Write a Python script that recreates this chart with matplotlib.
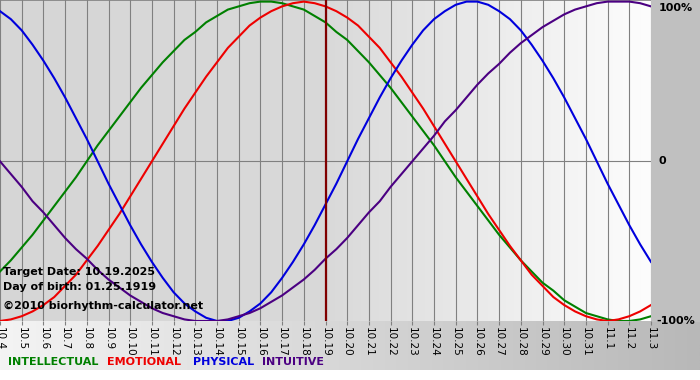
import numpy as np
import matplotlib
matplotlib.use("Agg")
import matplotlib.pyplot as plt
from matplotlib.colors import LinearSegmentedColormap

# days shown: 10.4 ... 11.3
days = ["10.4", "10.5", "10.6", "10.7", "10.8", "10.9", "10.10", "10.11", "10.12",
        "10.13", "10.14", "10.15", "10.16", "10.17", "10.18", "10.19", "10.20",
        "10.21", "10.22", "10.23", "10.24", "10.25", "10.26", "10.27", "10.28",
        "10.29", "10.30", "10.31", "11.1", "11.2", "11.3"]
target_idx = 15  # 10.19

# values read every half day
intellectual = [-0.69, -0.62, -0.54, -0.46, -0.37, -0.28, -0.19, -0.10, 0.00, 0.10,
                0.19, 0.28, 0.37, 0.46, 0.54, 0.62, 0.69, 0.76, 0.81, 0.87,
                0.91, 0.95, 0.97, 0.99, 1.00, 1.00, 0.99, 0.97, 0.95, 0.91,
                0.87, 0.81, 0.76, 0.69, 0.62, 0.54, 0.46, 0.37, 0.28, 0.19,
                0.10, 0.00, -0.10, -0.19, -0.28, -0.37, -0.46, -0.54, -0.62, -0.69,
                -0.76, -0.81, -0.87, -0.91, -0.95, -0.97, -0.99, -1.00, -1.00, -0.99,
                -0.97]
emotional = [-1.00, -0.99, -0.97, -0.94, -0.90, -0.85, -0.78, -0.71, -0.62, -0.53,
             -0.43, -0.33, -0.22, -0.11, 0.00, 0.11, 0.22, 0.33, 0.43, 0.53,
             0.62, 0.71, 0.78, 0.85, 0.90, 0.94, 0.97, 0.99, 1.00, 0.99,
             0.97, 0.94, 0.90, 0.85, 0.78, 0.71, 0.62, 0.53, 0.43, 0.33,
             0.22, 0.11, 0.00, -0.11, -0.22, -0.33, -0.43, -0.53, -0.62, -0.71,
             -0.78, -0.85, -0.90, -0.94, -0.97, -0.99, -1.00, -0.99, -0.97, -0.94,
             -0.90]
physical = [0.94, 0.89, 0.82, 0.73, 0.63, 0.52, 0.40, 0.27, 0.14, 0.00,
            -0.14, -0.27, -0.40, -0.52, -0.63, -0.73, -0.82, -0.89, -0.94, -0.98,
            -1.00, -1.00, -0.98, -0.94, -0.89, -0.82, -0.73, -0.63, -0.52, -0.40,
            -0.27, -0.14, 0.00, 0.14, 0.27, 0.40, 0.52, 0.63, 0.73, 0.82,
            0.89, 0.94, 0.98, 1.00, 1.00, 0.98, 0.94, 0.89, 0.82, 0.73,
            0.63, 0.52, 0.40, 0.27, 0.14, 0.00, -0.14, -0.27, -0.40, -0.52,
            -0.63]
intuitive = [0.00, -0.08, -0.16, -0.25, -0.32, -0.40, -0.48, -0.55, -0.61, -0.68,
             -0.74, -0.79, -0.84, -0.88, -0.92, -0.95, -0.97, -0.99, -1.00, -1.00,
             -1.00, -0.99, -0.97, -0.95, -0.92, -0.88, -0.84, -0.79, -0.74, -0.68,
             -0.61, -0.55, -0.48, -0.40, -0.32, -0.25, -0.16, -0.08, 0.00, 0.08,
             0.16, 0.25, 0.32, 0.40, 0.48, 0.55, 0.61, 0.68, 0.74, 0.79,
             0.84, 0.88, 0.92, 0.95, 0.97, 0.99, 1.00, 1.00, 1.00, 0.99,
             0.97]

series = [("INTELLECTUAL", intellectual, "#008000"),
          ("EMOTIONAL", emotional, "#ee0000"),
          ("PHYSICAL", physical, "#0000dd"),
          ("INTUITIVE", intuitive, "#4b0082")]
legend_x = [8, 107, 193, 262]

W, H = 700, 380
fig = plt.figure(figsize=(W / 100, H / 100), dpi=100)
fig.patch.set_facecolor("white")

# background layer in pixel coords
bg = fig.add_axes([0, 0, 1, 1], zorder=-1)
bg.set_xlim(0, W)
bg.set_ylim(H, 0)
bg.axis("off")
strip = LinearSegmentedColormap.from_list("strip", ["#f4f4f4", "#b8b8b8"])
bg.imshow(np.linspace(0, 1, 256)[None, :], cmap=strip, aspect="auto",
          extent=(0, W, 370, 321), zorder=0)
bg.add_patch(plt.Rectangle((651, 0), W - 651, 321, color="#c0c0c0", zorder=1))

# main chart
ax = fig.add_axes([0, 59 / H, 651 / W, 321 / H])
x = np.arange(len(days))
xs = np.arange(len(physical)) / 2
ax.set_xlim(0, len(days) - 1)
ax.set_ylim(-1.0, 1.01)

plotbg = LinearSegmentedColormap.from_list("plotbg", ["#d6d6d6", "#d9d9d9", "#fdfdfd"])
ax.imshow(np.linspace(0, 1, 256)[None, :], cmap=plotbg, aspect="auto",
          extent=(0, len(days) - 1, -1.0, 1.01), zorder=0)

for xi in x:
    ax.axvline(xi, color="#808080", lw=0.8, zorder=1)
ax.axhline(0, color="#808080", lw=0.8, zorder=1)
ax.axhline(1.01, color="#808080", lw=1.2, zorder=1)

for name, vals, col in series:
    ax.plot(xs, vals, color=col, lw=1.5, zorder=3)

ax.axvline(target_idx, color="#800000", lw=1.6, zorder=4)

for s in ax.spines.values():
    s.set_visible(False)
ax.set_xticks(x)
ax.set_xticklabels(days, rotation=-90, fontsize=7.5, va="top", ha="center",
                   family=["Liberation Sans Narrow", "DejaVu Sans"])
ax.tick_params(axis="x", length=3, color="#808080", pad=1)
ax.set_yticks([])

# right side percent labels
ax.text(1.012, 0.975, "100%", transform=ax.transAxes, fontsize=8,
        fontweight="bold", va="center", ha="left", clip_on=False)
ax.text(1.012, 0.0, "0", transform=ax.get_yaxis_transform(), fontsize=8,
        fontweight="bold", va="center", ha="left", clip_on=False)
ax.text(1.008, -1.0, "-100%", transform=ax.get_yaxis_transform(), fontsize=8,
        fontweight="bold", va="center", ha="left", clip_on=False)

# info text
info = ["Target Date: 10.19.2025", "Day of birth: 01.25.1919"]
fig.text(3 / W, 1 - 272 / H, info[0], fontsize=8, fontweight="bold", va="center")
fig.text(3 / W, 1 - 287 / H, info[1], fontsize=8, fontweight="bold", va="center")
fig.text(3 / W, 1 - 306 / H, "\u00a92010 biorhythm-calculator.net", fontsize=8,
         fontweight="bold", va="center")

# legend line
for (name, vals, col), lx in zip(series, legend_x):
    fig.text(lx / W, 1 - 362 / H, name, fontsize=8, fontweight="bold",
             color=col, va="center", ha="left")

fig.savefig("out.png", dpi=100)
